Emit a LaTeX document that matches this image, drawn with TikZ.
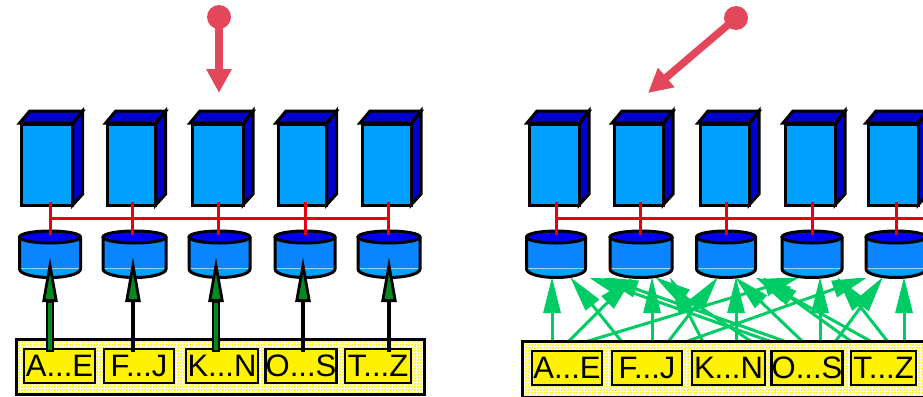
\documentclass[tikz,border=0pt]{standalone}
\usepackage{fontspec}
\setmainfont{Liberation Sans}
\usetikzlibrary{arrows.meta,patterns}
\definecolor{srvface}{HTML}{00A0FF}
\definecolor{srvdark}{HTML}{0000CC}
\definecolor{cyltop}{HTML}{0000F0}
\definecolor{cylbody}{HTML}{0A84FF}
\definecolor{cyllow}{HTML}{00A0FF}
\definecolor{cylline}{HTML}{90D4FF}
\definecolor{busred}{HTML}{E60012}
\definecolor{pointer}{HTML}{E2475C}
\definecolor{labelyellow}{HTML}{FFF200}
\definecolor{mint}{HTML}{00CC66}
\definecolor{leaf}{HTML}{008A20}
\pgfdeclarepatternformonly{ckr}{\pgfqpoint{0pt}{0pt}}{\pgfqpoint{3pt}{3pt}}{\pgfqpoint{3pt}{3pt}}{%
  \pgfpathrectangle{\pgfqpoint{0pt}{0pt}}{\pgfqpoint{1.9pt}{1.9pt}}%
  \pgfpathrectangle{\pgfqpoint{1.5pt}{1.5pt}}{\pgfqpoint{1.5pt}{1.5pt}}%
  \pgfusepath{fill}}
\tikzset{
  outline/.style={draw=black,line width=3pt,line join=miter},
  band/.style={outline,pattern=ckr,pattern color=labelyellow},
  keybox/.style={draw=black,line width=2.8pt,fill=labelyellow,minimum height=34pt,inner sep=0pt,
    font=\fontsize{31}{31}\selectfont,text=black,anchor=center},
  bus/.style={draw=busred,line width=3pt},
  replica/.style={draw=mint,line width=3pt,-{Triangle[length=36pt,width=17pt,color=mint]}},
  feed/.style={draw=black,line width=4.5pt,-{Triangle[length=45pt,width=15pt,fill=leaf,color=black,line width=2.8pt]}},
  feedcore/.style={draw=leaf,line width=3.5pt},
  feedwide/.style={line width=7.5pt},
  request/.style={draw=pointer,line width=7.5pt,-{Triangle[length=24pt,width=24pt,color=pointer]}},
}
\newcommand{\serverat}[3]{% left, width, name
  \path[fill=srvdark,outline] (#1+#2,124)--(#1+#2+10,111)--(#1+#2+10,194)--(#1+#2,205)--cycle;
  \path[fill=srvdark,outline] (#1-2,123)--(#1+8,111)--(#1+#2+10,111)--(#1+#2,123)--cycle;
  \node[outline,fill=srvface,minimum width=#2 pt,minimum height=81pt,inner sep=0pt] (#3) at (#1+#2/2,164.5) {};
}
\newcommand{\cacheat}[3]{% centre, half width, name
  \begin{scope}
    \clip (#1-#2,237)--(#1+#2,237)--(#1+#2,269) arc[start angle=0,end angle=180,x radius=#2,y radius=8.5]--cycle;
    \fill[cyllow] (#1-#2-2,235) rectangle (#1+#2+2,280);
    \fill[cylbody] (#1-#2-2,235) rectangle (#1+#2+2,268);
    \draw[cylline,line width=.7pt] (#1-#2,268)--(#1+#2,268);
  \end{scope}
  \draw[outline] (#1-#2,237)--(#1-#2,269) arc[start angle=180,end angle=0,x radius=#2,y radius=8.5]--(#1+#2,237);
  \draw[outline,fill=cyltop] (#1,237) ellipse[x radius=#2,y radius=6];
  \coordinate (#3) at (#1,235);
}
\begin{document}
\begin{tikzpicture}[x=1pt,y=-1pt]
\useasboundingbox (0,0) rectangle (923,396);
% ---- left half
\foreach \l/\w/\n in {21.7/51/sa1,107.7/48/sa2,192/51/sa3,278/48.5/sa4,362/49/sa5}{\serverat{\l}{\w}{\n}}
\foreach \c/\h/\n in {50/30.5/ca1,134.5/31.5/ca2,219.5/30.5/ca3,305/30/ca4,389/31/ca5}{\cacheat{\c}{\h}{\n}}
\coordinate (ba1) at (50,218); \coordinate (ba5) at (388,218);
\draw[bus] (ba1)--(ba5);
\foreach \x in {50,132,218,305,388}{
  \coordinate (u) at (\x,202); \coordinate (v) at (\x,235);
  \draw[bus] (u)--(v);
}
\path[band] (16,339) rectangle (424,394);
\node[keybox,minimum width=71pt] (ka1) at (59.5,366) {A...E};
\node[keybox,minimum width=70pt] (ka2) at (139,366) {F...J};
\node[keybox,minimum width=72pt] (ka3) at (222,366) {K...N};
\node[keybox,minimum width=70pt] (ka4) at (301,366) {O...S};
\node[keybox,minimum width=66pt] (ka5) at (378,366) {T...Z};
\foreach \x/\n in {50/1,216/3}{
  \coordinate (fs\n) at (\x,352); \coordinate (ft\n) at (\x,257); \coordinate (fb\n) at (\x,303);
  \draw[feed,feedwide] (fs\n)--(ft\n);
  \draw[feedcore] (\x,350)--(fb\n);
}
\foreach \x/\n in {133/2,303/4,389/5}{
  \coordinate (fs\n) at (\x,352); \coordinate (ft\n) at (\x,257);
  \draw[feed] (fs\n)--(ft\n);
}
\node[circle,fill=pointer,minimum size=24pt,inner sep=0pt] (pa) at (219,17) {};
\coordinate (pat) at (219,93);
\draw[request] (pa.center)--(pat);
% ---- right half
\foreach \l/\w/\n in {529/50/sb1,614/49/sb2,700/49/sb3,785/50/sb4,868/50/sb5}{\serverat{\l}{\w}{\n}}
\foreach \c/\h/\n in {556/29.5/cb1,641/31/cb2,726/29.5/cb3,812/30/cb4,896/30/cb5}{\cacheat{\c}{\h}{\n}}
\coordinate (bb1) at (556,218); \coordinate (bb5) at (923,218);
\draw[bus] (bb1)--(bb5);
\foreach \x in {556,640,726,812,896}{
  \coordinate (u) at (\x,202); \coordinate (v) at (\x,235);
  \draw[bus] (u)--(v);
}
\begin{scope}
  \clip (500,278) rectangle (923,345);
  \foreach \s/\t in {552/552,568/633,585/800,622/570,652/652,668/718,685/868,703/670,736/736,752/655,772/588,787/602,803/735,820/820,835/883,852/762,872/755,888/837,904/904}{
    \coordinate (rs\s) at (\s,342); \coordinate (rt\s) at (\t,277);
    \draw[replica] (rs\s)--(rt\s);
  }
\end{scope}
\path[band] (522,341) rectangle (930,397);
\node[keybox,minimum width=70pt] (kb1) at (567,368) {A...E};
\node[keybox,minimum width=70pt] (kb2) at (647,368) {F...J};
\node[keybox,minimum width=73pt] (kb3) at (728.5,368) {K...N};
\node[keybox,minimum width=70pt] (kb4) at (807,368) {O...S};
\node[keybox,minimum width=65pt] (kb5) at (883.5,368) {T...Z};
\node[circle,fill=pointer,minimum size=24pt,inner sep=0pt] (pb) at (736,18) {};
\coordinate (pbt) at (648,93);
\draw[request] (pb.center)--(pbt);
\end{tikzpicture}
\end{document}
